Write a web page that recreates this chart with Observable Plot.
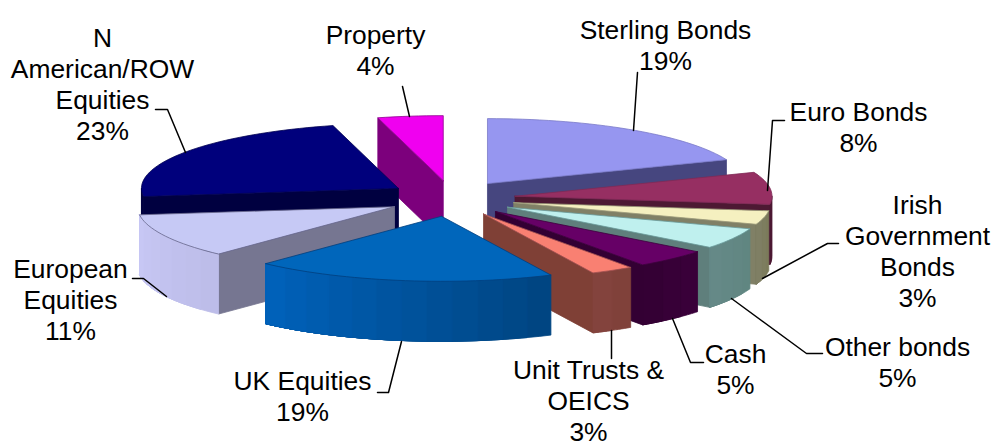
<!DOCTYPE html>
<html>
<head>
<meta charset="utf-8">
<script src="https://cdn.jsdelivr.net/npm/d3@7"></script>
<script src="https://cdn.jsdelivr.net/npm/@observablehq/plot@0.6"></script>
<style>html,body{margin:0;padding:0;background:#fff}svg{display:block}</style>
</head>
<body>
<div id="chart"></div>
<script>
const categories = ["Sterling Bonds","Euro Bonds","Irish\nGovernment\nBonds","Other bonds","Cash","Unit Trusts &\nOEICS","UK Equities","European\nEquities","N\nAmerican/ROW\nEquities","Property"];
// slice sizes; printed labels are the rounded figures
const shares = [19,8,3.4,5.2,4.7,2.7,19,11,22.9,4.1];
const printed = [19,8,3,5,5,3,19,11,23,4];

const topColors  = ["#9696f0","#962f62","#f5f0c0","#bff0ee","#660066","#f98072","#0066bb","#c6c9f5","#00007c","#f000f0"];
const edgeColors = ["#7a7ac8","#7f2a55","#9a9a7a","#6a9a9a","#3d003d","#a05050","#003f7e","#66668a","#000050","#900090"];
const sideColors = ["#46467f","#4d1933","#808066","#5f7f7c","#330033","#7f4036","#003366","#767691","#000040","#7c007c"];
const arcRightEnd = ["#46467f","#4d1933","#7a7a58","#5f8580","#3a003a","#7f4038","#00447f","#bcbce8","#000040","#7c007c"];
const arcLeftEnd  = ["#46467f","#4d1933","#808066","#668a88","#330033","#84443e","#0062bc","#c8c8f5","#000040","#7c007c"];

// Layout of the tilted pie, in pixels of the picture
const pie = {cx:451, cy:198, rx:257, ry:65, ex:64, ey:18, depth:60};
const labelAt = [[665,44],[858,126],[917,250],[897,361],[735,368],[588,400],[302,395],[70,299],[102,83],[375,49]];
const leaders = [
  [[637,72],[633,130]],
  [[784,120],[772,120],[767,190]],
  [[838,243],[827,243],[762,278]],
  [[822,353],[806,353],[731,298]],
  [[703,362],[690,362],[672,318]],
  [[611,358],[611,330]],
  [[377,392],[388,392],[401,341]],
  [[132,278],[143,278],[166,296]],
  [[155,109],[167,109],[185,152]],
  [[402,86],[409,116]]
];

const rad = d => d * Math.PI / 180;
const total = d3.sum(shares);
let run = 0;
const slices = shares.map((s, i) => {
  const a0 = run / total * 360; run += s;
  const a1 = run / total * 360;
  const mid = (a0 + a1) / 2;
  return {i, a0, a1, mid,
    ax: pie.cx + pie.ex * Math.sin(rad(mid)),
    ay: pie.cy - pie.ey * Math.cos(rad(mid))};
});
const rim = (s, t) => [s.ax + pie.rx * Math.sin(rad(t)), s.ay - pie.ry * Math.cos(rad(t))];

const verts = [];
let fid = 0;
function face(points, fill, stroke) {
  const id = fid++;
  [...points, points[0]].forEach(p => verts.push({id, x:p[0], y:p[1], fill, stroke}));
}
const down = p => [p[0], p[1] + pie.depth];

[...slices].sort((p, q) => Math.cos(rad(q.mid)) - Math.cos(rad(p.mid))).forEach(s => {
  const apex = [s.ax, s.ay], side = sideColors[s.i], edge = edgeColors[s.i];
  if (Math.sin(rad(s.a0)) < 0) {
    const p = rim(s, s.a0);
    face([apex, p, down(p), down(apex)], side, side);
  }
  if (Math.sin(rad(s.a1)) > 0) {
    const p = rim(s, s.a1);
    face([apex, p, down(p), down(apex)], side, side);
  }
  // outer wall: each band runs to the far end of the wall and the next one paints over it
  const from = Math.max(s.a0, 90), to = Math.min(s.a1, 270);
  if (to > from) {
    const bands = Math.ceil((to - from) / 6);
    const col = d3.interpolateRgb(arcRightEnd[s.i], arcLeftEnd[s.i]);
    for (let k = 0; k < bands; k++) {
      const t0 = from + (to - from) * k / bands;
      const c = col((k + .5) / bands);
      const upper = d3.range(0, 25).map(j => rim(s, t0 + (to - t0) * j / 24));
      face([...upper, ...upper.map(down).reverse()], c, c);
    }
  }
  const outline = [apex];
  const n = Math.ceil((s.a1 - s.a0) / 2);
  for (let k = 0; k <= n; k++) outline.push(rim(s, s.a0 + (s.a1 - s.a0) * k / n));
  face(outline, topColors[s.i], edge);
});

const labels = categories.map((c, i) => ({text: `${c}\n${printed[i]}%`, x: labelAt[i][0], y: labelAt[i][1]}));
const leaderPts = leaders.flatMap((l, i) => l.map(p => ({i, x:p[0], y:p[1]})));

const chart = Plot.plot({
  width: 992, height: 447,
  margin: 0,
  x: {domain:[0,992], range:[0,992], axis:null},
  y: {domain:[0,447], range:[0,447], axis:null},
  color: {type:"identity"},
  style: {background:"#fff"},
  marks: [
    Plot.line(verts, {x:"x", y:"y", z:"id", fill:"fill", stroke:"stroke", strokeWidth:0.8, strokeLinejoin:"round"}),
    Plot.line(leaderPts, {x:"x", y:"y", z:"i", stroke:"#000", strokeWidth:1.5}),
    Plot.text(labels, {x:"x", y:"y", text:"text", fontFamily:"Liberation Sans, Arial, sans-serif", fontSize:26.4, lineHeight:1.175, fill:"#000", textAnchor:"middle", lineAnchor:"middle"})
  ]
});
document.getElementById("chart").appendChild(chart);
</script>
</body>
</html>
